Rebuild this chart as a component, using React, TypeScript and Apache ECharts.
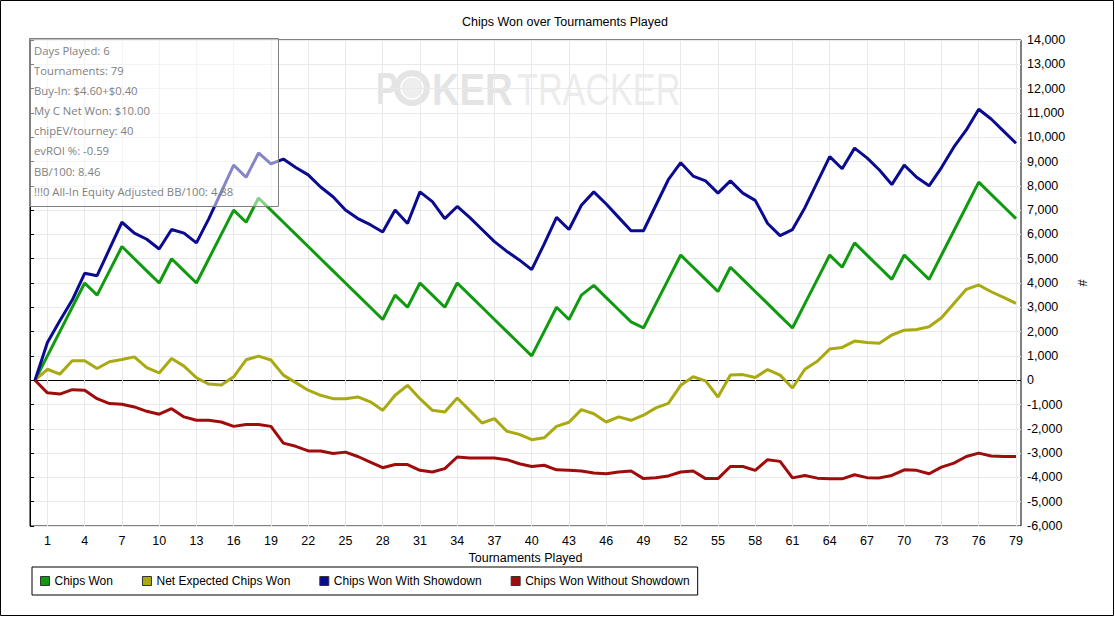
import React, { useEffect, useRef } from "react";
import * as echarts from "echarts";

const tournaments = [
  0, 1, 2, 3, 4, 5, 6, 7, 8, 9, 10, 11, 12, 13, 14, 15, 16, 17, 18, 19,
  20, 21, 22, 23, 24, 25, 26, 27, 28, 29, 30, 31, 32, 33, 34, 35, 36, 37, 38, 39,
  40, 41, 42, 43, 44, 45, 46, 47, 48, 49, 50, 51, 52, 53, 54, 55, 56, 57, 58, 59,
  60, 61, 62, 63, 64, 65, 66, 67, 68, 69, 70, 71, 72, 73, 74, 75, 76, 77, 78, 79,
];

const chipsWon = [
  0, 1000, 2000, 3000, 4000, 3500, 4500, 5500, 5000, 4500,
  4000, 5000, 4500, 4000, 5000, 6000, 7000, 6500, 7500, 7000,
  6500, 6000, 5500, 5000, 4500, 4000, 3500, 3000, 2500, 3500,
  3000, 4000, 3500, 3000, 4000, 3500, 3000, 2500, 2000, 1500,
  1000, 2000, 3000, 2500, 3500, 3900, 3400, 2900, 2400, 2150,
  3150, 4150, 5150, 4650, 4150, 3650, 4650, 4150, 3650, 3150,
  2650, 2150, 3150, 4150, 5150, 4650, 5650, 5150, 4650, 4150,
  5150, 4650, 4150, 5150, 6150, 7150, 8150, 7650, 7150, 6650,
];

const netExpected = [
  0, 450, 250, 800, 800, 480, 760, 850, 960, 520,
  300, 890, 580, 100, -160, -200, 140, 840, 990, 830,
  210, -100, -410, -620, -760, -760, -690, -890, -1240, -620,
  -210, -760, -1240, -1310, -730, -1240, -1760, -1580, -2100, -2230,
  -2450, -2370, -1900, -1730, -1210, -1380, -1720, -1510, -1650, -1440,
  -1140, -950, -210, 140, -30, -690, 210, 230, 110, 440,
  210, -320, 450, 780, 1280, 1350, 1610, 1550, 1520, 1860,
  2060, 2090, 2200, 2570, 3160, 3740, 3920, 3640, 3410, 3160,
];

const withShowdown = [
  0, 1550, 2450, 3300, 4400, 4300, 5400, 6500, 6050, 5800,
  5400, 6200, 6050, 5650, 6650, 7750, 8850, 8350, 9350, 8900,
  9100, 8750, 8450, 7950, 7550, 7000, 6650, 6400, 6100, 7000,
  6450, 7750, 7350, 6650, 7150, 6700, 6200, 5700, 5300, 4950,
  4550, 5600, 6700, 6200, 7200, 7750, 7250, 6700, 6150, 6150,
  7200, 8250, 8950, 8400, 8200, 7700, 8200, 7700, 7400, 6450,
  5950, 6200, 7100, 8150, 9200, 8700, 9550, 9150, 8650, 8050,
  8850, 8350, 8000, 8750, 9600, 10300, 11150, 10750, 10250, 9750,
];

const withoutShowdown = [
  0, -520, -570, -390, -410, -760, -960, -990, -1100, -1280,
  -1400, -1170, -1510, -1650, -1650, -1720, -1900, -1820, -1820, -1900,
  -2590, -2720, -2910, -2910, -3020, -2960, -3140, -3370, -3600, -3470,
  -3470, -3710, -3780, -3640, -3160, -3200, -3200, -3200, -3270, -3440,
  -3550, -3500, -3690, -3710, -3740, -3820, -3850, -3780, -3740, -4050,
  -4010, -3940, -3780, -3740, -4050, -4050, -3550, -3550, -3710, -3270,
  -3340, -4020, -3920, -4030, -4060, -4060, -3890, -4010, -4020, -3920,
  -3690, -3710, -3850, -3580, -3410, -3140, -3000, -3120, -3140, -3140,
];

const seriesNames = [
  "Chips Won",
  "Net Expected Chips Won",
  "Chips Won With Showdown",
  "Chips Won Without Showdown",
];
const seriesColors = ["#109a10", "#a9a912", "#0b0b91", "#a00c0c"];

const infoLines = [
  "Days Played: 6",
  "Tournaments: 79",
  "Buy-In: $4.60+$0.40",
  "My C Net Won: $10.00",
  "chipEV/tourney: 40",
  "evROI %: -0.59",
  "BB/100: 8.46",
  "!!!0 All-In Equity Adjusted BB/100: 4.88",
];

const titleText = "Chips Won over Tournaments Played";
const xAxisName = "Tournaments Played";
const yAxisName = "#";

const yMin = -6000;
const yMax = 14000;
const yStep = 1000;

const FONT = "'Liberation Sans', Arial, sans-serif";
const INFO_FONT = "'Open Sans', 'Noto Sans', sans-serif";

export default function App() {
  const ref = useRef<HTMLDivElement>(null);

  useEffect(() => {
    document.body.style.margin = "0";
    if (!ref.current) return;
    const chart = echarts.init(ref.current, null, { renderer: "svg" });

    const lineCount = Math.round((yMax - yMin) / yStep) + 1;
    const splitColors: string[] = [];
    for (let i = 0; i < lineCount; i++) {
      splitColors.push(yMin + i * yStep === 0 ? "#000000" : "#e9e9e9");
    }

    const showEvery = (i: number) => i % 3 === 1;
    const allData = [chipsWon, netExpected, withShowdown, withoutShowdown];

    const option: any = {
      animation: false,
      backgroundColor: "#ffffff",
      textStyle: { fontFamily: FONT },
      grid: [
        { left: 35, right: 99, top: 40, bottom: 91 },
        {
          left: 30,
          right: 94,
          top: 40,
          bottom: 91,
          show: true,
          borderColor: "#000",
          borderWidth: 1,
          backgroundColor: "transparent",
        },
      ],
      xAxis: [
        {
          type: "category",
          gridIndex: 0,
          data: tournaments.map(String),
          boundaryGap: false,
          axisLine: { show: false },
          axisTick: {
            show: true,
            interval: showEvery,
            length: 4,
            lineStyle: { color: "#c8c8c8" },
          },
          axisLabel: {
            interval: showEvery,
            margin: 8,
            color: "#000",
            fontSize: 12.5,
            fontFamily: FONT,
          },
          splitLine: {
            show: true,
            interval: showEvery,
            lineStyle: { color: "#e9e9e9" },
          },
          name: xAxisName,
          nameLocation: "middle",
          nameGap: 24,
          nameTextStyle: { color: "#000", fontSize: 12.5, fontFamily: FONT },
        },
        { type: "value", gridIndex: 1, min: 0, max: 1, show: false },
      ],
      yAxis: [
        {
          type: "value",
          gridIndex: 0,
          min: yMin,
          max: yMax,
          interval: yStep,
          show: false,
        },
        {
          type: "value",
          gridIndex: 1,
          position: "right",
          min: yMin,
          max: yMax,
          interval: yStep,
          axisLine: { show: true, lineStyle: { color: "#000" } },
          axisTick: { show: true, length: 4, lineStyle: { color: "#000" } },
          axisLabel: {
            margin: 6,
            color: "#000",
            fontSize: 12.5,
            fontFamily: FONT,
            formatter: (v: number) => v.toLocaleString("en-US"),
          },
          splitLine: { show: true, lineStyle: { color: splitColors, width: 1 } },
          name: yAxisName,
          nameLocation: "middle",
          nameGap: 54,
          nameMoveOverlap: false,
          nameRotate: -90,
          nameTextStyle: { color: "#000", fontSize: 12.5, fontFamily: FONT },
        },
      ],
      legend: {
        show: true,
        left: 32,
        top: 567,
        orient: "horizontal",
        icon: "rect",
        itemWidth: 9,
        itemHeight: 9,
        itemGap: 29,
        padding: [8, 8, 8, 8],
        borderColor: "#000",
        borderWidth: 1,
        borderRadius: 0,
        textStyle: { fontSize: 12, color: "#000", fontFamily: FONT },
        itemStyle: { borderColor: "#333", borderWidth: 1 },
        data: seriesNames,
      },
      series: seriesNames.map((name, k) => ({
        name,
        type: "line",
        xAxisIndex: 0,
        yAxisIndex: 0,
        data: allData[k],
        symbol: "none",
        showSymbol: false,
        itemStyle: { color: seriesColors[k] },
        lineStyle: { color: seriesColors[k], width: 3 },
        z: 3,
      })),
      graphic: [
        {
          type: "rect",
          shape: { x: 0.5, y: 0.5, width: 1113, height: 615 },
          style: { fill: "none", stroke: "#000", lineWidth: 1 },
          silent: true,
        },
        {
          type: "text",
          x: 565,
          y: 22,
          style: {
            text: titleText,
            fontSize: 12.5,
            fontFamily: FONT,
            fill: "#000",
            textAlign: "center",
            textVerticalAlign: "middle",
          },
        },
        {
          type: "text",
          x: 376,
          y: 89,
          scaleX: 0.72,
          z: -1,
          silent: true,
          style: {
            text: "P",
            fontSize: 45,
            fontWeight: "bold",
            fontFamily: FONT,
            fill: "#e4e4e4",
            textVerticalAlign: "middle",
          },
        },
        {
          type: "circle",
          z: -1,
          silent: true,
          shape: { cx: 412, cy: 88, r: 18 },
          style: { fill: "#e4e4e4" },
        },
        {
          type: "circle",
          z: -1,
          silent: true,
          shape: { cx: 412, cy: 88, r: 11 },
          style: { fill: "#eeeeee", stroke: "#ffffff", lineWidth: 1.5 },
        },
        {
          type: "text",
          x: 432,
          y: 89,
          scaleX: 0.85,
          z: -1,
          silent: true,
          style: {
            text: "KER",
            fontSize: 45,
            fontWeight: "bold",
            fontFamily: FONT,
            fill: "#e4e4e4",
            textVerticalAlign: "middle",
          },
        },
        {
          type: "text",
          x: 517,
          y: 89,
          scaleX: 0.76,
          z: -1,
          silent: true,
          style: {
            text: "TRACKER",
            fontSize: 45,
            fontFamily: FONT,
            fill: "#ececec",
            textVerticalAlign: "middle",
          },
        },
        {
          type: "rect",
          z: 100,
          zlevel: 0,
          shape: { x: 29.5, y: 38.5, width: 249, height: 168 },
          style: {
            fill: "rgba(255,255,255,0.5)",
            stroke: "#808080",
            lineWidth: 1,
          },
        },
        ...infoLines.map((t, i) => ({
          type: "text",
          z: 101,
          zlevel: 0,
          x: 34,
          y: 50.7 + i * 20.05,
          style: {
            text: t,
            fontSize: 11.3,
            fontFamily: INFO_FONT,
            fill: "#808080",
            textVerticalAlign: "middle",
          },
        })),
      ],
    };

    chart.setOption(option);
    return () => {
      chart.dispose();
    };
  }, []);

  return (
    <div
      ref={ref}
      style={{
        position: "fixed",
        left: 0,
        top: 0,
        width: 1115,
        height: 617,
        background: "#fff",
      }}
    />
  );
}
